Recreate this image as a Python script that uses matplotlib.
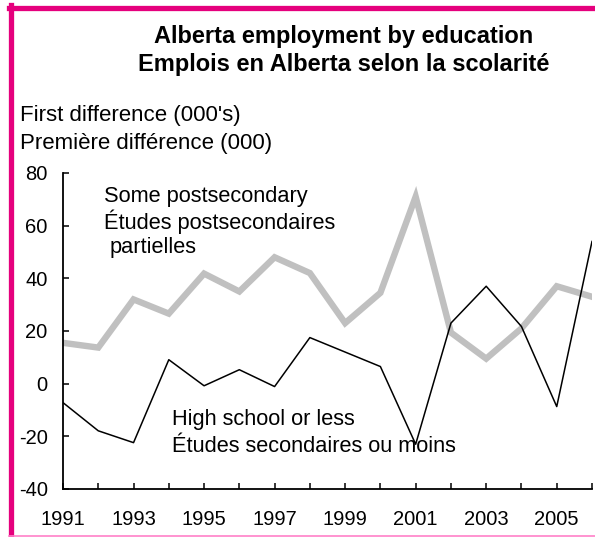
import matplotlib.pyplot as plt
from matplotlib.lines import Line2D

plt.rcParams['font.family'] = ['Liberation Sans', 'DejaVu Sans']
plt.rcParams['axes.unicode_minus'] = False

years = list(range(1991, 2007))
postsec = [15.5, 13.7, 32, 26.6, 41.8, 35, 48, 42, 23, 34.5, 71, 19.4, 9.5, 21, 37, 33]
highschool = [-7.2, -17.9, -22.4, 9.1, -0.8, 5.3, -1.1, 17.5, 12, 6.5, -23, 23, 37, 21.7, -8.7, 54]
tick_years = [1991, 1993, 1995, 1997, 1999, 2001, 2003, 2005]

W, H = 595, 537
fig = plt.figure(figsize=(W / 100, H / 100), dpi=100)

def fx(x):
    return x / W

def fy(y):
    return 1 - y / H

ax = fig.add_axes([fx(63), fy(489), fx(592) - fx(63), fy(173) - fy(489)])
ax.plot(years, postsec, color='#c0c0c0', lw=4.6, solid_joinstyle='miter')
ax.plot(years, highschool, color='black', lw=1.1)

ax.set_xlim(1991, 2006)
ax.set_ylim(-40, 80)
ax.set_yticks(range(-40, 81, 20))
ax.set_xticks(years, minor=True)
ax.set_xticks(tick_years)
ax.tick_params(which='both', direction='in', length=4.5, width=1.1, labelsize=14.5)
ax.tick_params(axis='x', which='major', pad=15)
ax.tick_params(axis='y', pad=11)
for s in ['top', 'right']:
    ax.spines[s].set_visible(False)
for s in ['left', 'bottom']:
    ax.spines[s].set_linewidth(1.3)

# titles and labels
fig.text(fx(344), fy(36), 'Alberta employment by education', ha='center', va='center',
         fontsize=17, fontweight='bold')
fig.text(fx(344), fy(65), 'Emplois en Alberta selon la scolarité', ha='center', va='center',
         fontsize=17, fontweight='bold')
fig.text(fx(20), fy(115), "First difference (000's)", ha='left', va='center', fontsize=16)
fig.text(fx(20), fy(143), 'Première différence (000)', ha='left', va='center', fontsize=16)

fig.text(fx(104), fy(196), 'Some postsecondary', ha='left', va='center', fontsize=15.7)
fig.text(fx(104), fy(222), 'Études postsecondaires', ha='left', va='center', fontsize=15.7)
fig.text(fx(110), fy(248), 'partielles', ha='left', va='center', fontsize=15.7)
fig.text(fx(172), fy(420), 'High school or less', ha='left', va='center', fontsize=15.7)
fig.text(fx(172), fy(447), 'Études secondaires ou moins', ha='left', va='center', fontsize=15.7)

# pink frame
pink = '#e5007d'
fig.add_artist(Line2D([fx(10.5), fx(10.5)], [fy(5), fy(537)], color=pink, lw=3.8))
fig.add_artist(Line2D([fx(8.5), fx(595)], [fy(7.5), fy(7.5)], color=pink, lw=3.8))
fig.add_artist(Line2D([fx(8.5), fx(595)], [fy(535.5), fy(535.5)], color='#ff80c8', lw=1.2))

fig.savefig('out.png', dpi=100)
